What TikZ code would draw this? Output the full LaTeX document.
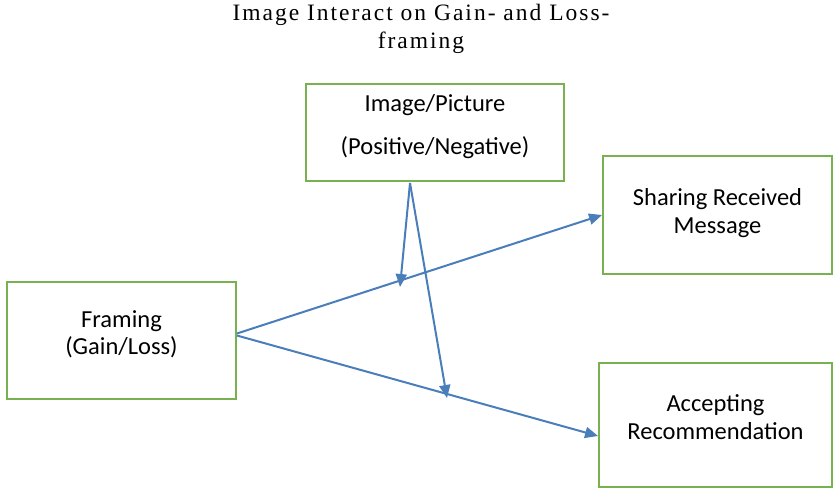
\documentclass[tikz,border=0pt]{standalone}
\usepackage{fontspec}
\setmainfont{Liberation Serif}
\newfontfamily\boxfont{Carlito}
\usetikzlibrary{arrows.meta}
\definecolor{boxgreen}{RGB}{120,178,80}
\definecolor{arrowblue}{RGB}{74,126,187}

\begin{document}
\begin{tikzpicture}[x=1pt, y=-1pt]

\tikzstyle{frame} = [rectangle, draw=boxgreen, line width=1.9pt, align=center, text depth=16pt, font=\boxfont\fontsize{24.5}{27.5}\selectfont]
\tikzstyle{link} = [draw=arrowblue, line width=2pt, -{Triangle[width=11pt,length=13pt]}]
\tikzstyle{title} = [align=center, font=\fontsize{23.5}{28}\selectfont\addfontfeature{LetterSpace=8.5}]

\useasboundingbox (0,0) rectangle (834,488);

\node[title] (head) at (421,29) {Image Interact on Gain- and Loss-\\framing};

\node[frame, minimum width=258pt, minimum height=97pt] (image) at (435,132.5) {Image/Picture\\[15pt](Positive/Negative)};
\node[frame, text depth=8pt, minimum width=229pt, minimum height=118pt] (sharing) at (717.5,215) {Sharing Received\\Message};
\node[frame, minimum width=229pt, minimum height=117pt] (framing) at (121.5,340.5) {Framing\\(Gain/Loss)};
\node[frame, minimum width=233pt, minimum height=124pt] (accepting) at (715.5,425) {Accepting\\Recommendation};

\coordinate (split) at (410,183);
\coordinate (hitup) at (400,287);
\coordinate (hitdown) at (447,398);

\draw[link] ([yshift=7pt]framing.east) -- (sharing.west);
\draw[link] ([yshift=5pt]framing.east) -- ([yshift=-11pt]accepting.west);
\draw[link] (split) -- (hitup);
\draw[link] (split) -- (hitdown);

\end{tikzpicture}
\end{document}
